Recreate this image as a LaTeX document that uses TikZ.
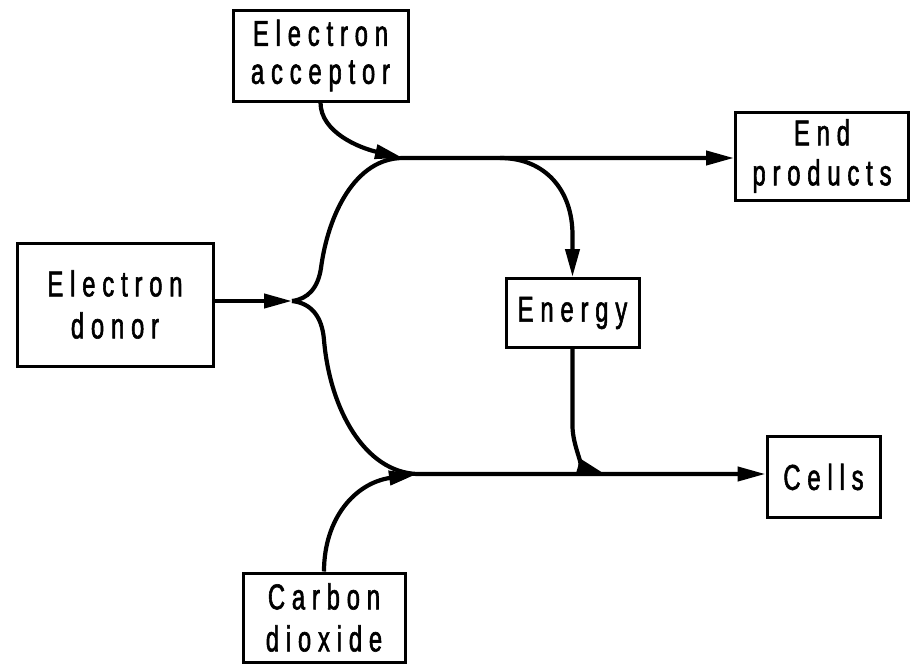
\documentclass[tikz,border=0pt]{standalone}
\usepackage{fontspec}
\newfontfamily\lab[FakeStretch=0.66,FakeBold=1.6,LetterSpace=19]{Liberation Sans}
\usetikzlibrary{arrows.meta}
\tikzset{
  box/.style={draw, line width=3pt, inner sep=0pt, align=center,
    font=\lab\fontsize{36}{38}\selectfont},
  conn/.style={line width=4.2pt},
  arr/.style={-{Triangle[length=28pt,width=14pt]}},
}
\begin{document}
\begin{tikzpicture}[x=1pt,y=-1pt]
\useasboundingbox (0,0) rectangle (911,665);
% boxes
\node[box, minimum width=175pt, minimum height=91pt] (ac) at (320.5,55.5) {Electron\\acceptor};
\node[box, minimum width=196pt, minimum height=123pt] (dn) at (115,304.5) {Electron\\[4pt]donor};
\node[box, minimum width=133pt, minimum height=69pt] (en) at (572.5,313) {Energy};
\node[box, minimum width=173pt, minimum height=88pt] (ep) at (822,156) {End\\[2pt]products};
\node[box, minimum width=113pt, minimum height=81pt] (ce) at (823.5,477) {Cells};
\node[box, minimum width=162pt, minimum height=89pt] (co) at (324,617.5) {Carbon\\[4pt]dioxide};
% junction points
\coordinate (J) at (292,301);
\coordinate (M1) at (403,158);
\coordinate (E1) at (500,158);
\coordinate (M2) at (417,474);
\coordinate (M3) at (605,474);
% connectors
\draw[conn,arr] (dn.east |- J) -- (J);
\draw[conn,arr] (J) .. controls (308,299) and (318,288) .. (321,268)
  .. controls (328,215) and (355,158) .. (M1) -- (M1 -| ep.west);
\draw[conn,arr] (J) .. controls (310,303) and (322,315) .. (324,340)
  .. controls (330,410) and (365,472) .. (M2) -- (M2 -| ce.west);
\draw[conn,arr] (ac.south) .. controls +(0,30) and (360,148) .. (M1);
\draw[conn,arr] (co.north) .. controls +(0,-53) and (355,483) .. (M2);
\draw[conn,arr] (E1) .. controls (545,158) and (572.5,190) .. (572.5,235) -- (en.north);
\draw[conn,arr] (en.south) -- ++(0,77) .. controls +(0,20) and (585,468) .. (M3);
\end{tikzpicture}
\end{document}
